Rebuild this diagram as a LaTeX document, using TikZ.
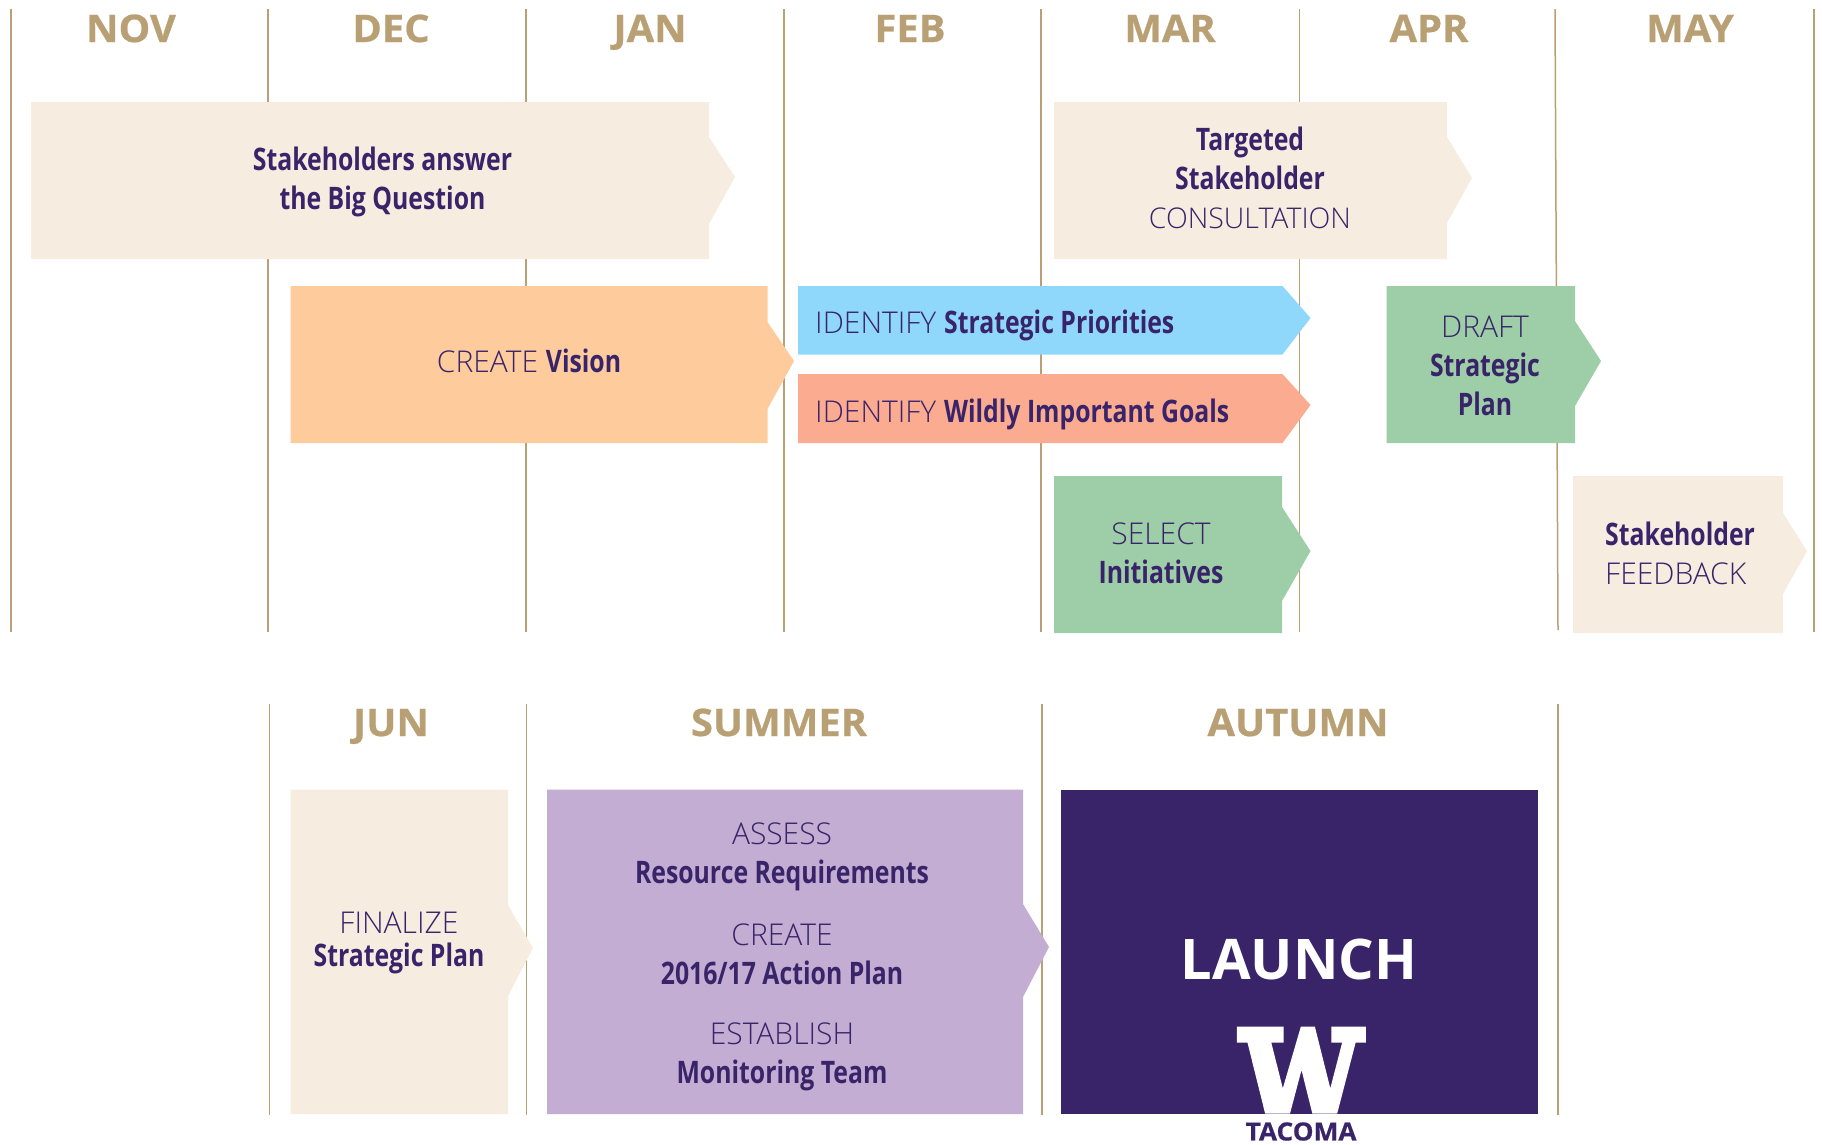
\documentclass[tikz,border=0pt]{standalone}
\usepackage{fontspec}
\setmainfont{Open Sans}
\newfontfamily\condfont[FakeStretch=0.8]{Open Sans}
\newfontfamily\lightfont{Open Sans Light}
\newfontfamily\heavyfont[FakeBold=0.6,FakeStretch=1.05]{Open Sans}
\definecolor{gold}{HTML}{B9A074}
\definecolor{ink}{HTML}{39246A}
\definecolor{cream}{HTML}{F6ECE0}
\definecolor{peach}{HTML}{FDCB9C}
\definecolor{sky}{HTML}{8FD8FB}
\definecolor{salmon}{HTML}{FBAB90}
\definecolor{leaf}{HTML}{9ECEA8}
\definecolor{lavender}{HTML}{C3ADD2}
\newcommand{\B}[1]{{\condfont\bfseries\fontsize{31}{39}\selectfont #1}}
\newcommand{\Lt}[1]{{\lightfont #1}}
% x1 y1 x2 y2 notchtop notchbottom tipx tipy colour
\newcommand{\arrowbox}[9]{\fill[#9] (#1,#2) -- (#3,#2) -- (#3,#5) -- (#7,#8) -- (#3,#6) -- (#3,#4) -- (#1,#4) -- cycle;}
\tikzset{
  grid line/.style={draw=gold,line width=1.5pt},
  month/.style={text=gold,font=\heavyfont\bfseries\fontsize{38}{38}\selectfont,inner sep=0pt,anchor=base},
  body/.style={text=ink,font=\fontsize{30}{39}\selectfont,align=center,inner sep=0pt,anchor=center},
}
\begin{document}
\begin{tikzpicture}[x=1pt,y=-1pt]
\useasboundingbox (0,0) rectangle (1822,1144);
\foreach \x in {11,268,526,784,1041,1299.5,1814}{\draw[grid line] (\x,9) -- (\x,632);}
\draw[grid line] (1555,9) -- (1558,630);
\foreach \x in {269.5,526.5,1042,1558}{\draw[grid line] (\x,704) -- (\x,1115);}
\arrowbox{31}{102}{709}{259}{137}{224}{735}{177}{cream}
\arrowbox{1054}{102}{1447}{259}{137}{223}{1472}{178}{cream}
\arrowbox{290.5}{286}{767.5}{443}{322}{409}{794}{361}{peach}
\arrowbox{798}{286}{1282.5}{354.5}{286}{354.5}{1310.5}{318}{sky}
\arrowbox{798}{374}{1282.5}{443}{374}{443}{1310.5}{405}{salmon}
\arrowbox{1054}{476}{1282}{633}{507}{601}{1310.5}{551}{leaf}
\arrowbox{1386.5}{286}{1575}{443}{321}{406}{1601}{361}{leaf}
\arrowbox{1573}{476}{1783}{633}{513}{594}{1807}{551}{cream}
\arrowbox{290.5}{789.5}{508}{1114}{905}{996}{533}{948}{cream}
\arrowbox{547}{789.5}{1023}{1114}{904}{997}{1049}{947}{lavender}
\fill[ink] (1061,789.5) rectangle (1537.5,1114);
\fill[white] (1236.8,1026.7) -- (1283.5,1026.7) -- (1283.5,1042.7) -- (1271.3,1042.7) -- (1282.8,1088.3) -- (1300.8,1026.7) -- (1314.9,1026.7) -- (1330.3,1088.3) -- (1342.1,1042.7) -- (1331.4,1042.7) -- (1331.4,1026.7) -- (1365.9,1026.7) -- (1365.9,1042.7) -- (1355.6,1042.7) -- (1337.2,1113.5) -- (1312.3,1113.5) -- (1301.5,1070) -- (1290,1113.5) -- (1265.1,1113.5) -- (1247.5,1042.7) -- (1236.8,1042.7) -- cycle;
\node[month] (nov) at (131,42) {NOV};
\node[month] (dec) at (391,42) {DEC};
\node[month] (jan) at (650,42) {JAN};
\node[month] (feb) at (910,42) {FEB};
\node[month] (mar) at (1170,42) {MAR};
\node[month] (apr) at (1429,42) {APR};
\node[month] (may) at (1690,42) {MAY};
\node[month] (jun) at (391,736) {JUN};
\node[month] (summer) at (779,736) {SUMMER};
\node[month] (autumn) at (1298,736) {AUTUMN};
\node[body] (big) at (382.5,182) {\B{Stakeholders answer}\\\B{the Big Question}};
\node[body] (targeted) at (1250,178) {\B{Targeted}\\\B{Stakeholder}\\{\lightfont\fontsize{28.5}{39}\selectfont CONSULTATION}};
\node[body] (vision) at (529,361) {\Lt{CREATE} \B{Vision}};
\node[body,anchor=west] (priorities) at (815,325) {\Lt{IDENTIFY} \B{Strategic Priorities}};
\node[body,anchor=west] (goals) at (815,414) {\Lt{IDENTIFY} \B{Wildly Important Goals}};
\node[body] (select) at (1161,553.5) {\Lt{SELECT}\\\B{Initiatives}};
\node[body] (draft) at (1485,365.5) {\Lt{DRAFT}\\\B{Strategic}\\\B{Plan}};
\node[body,align=left,anchor=west] (feedback) at (1605,553) {\B{Stakeholder}\\\Lt{FEEDBACK}};
\node[body,font=\fontsize{30}{33}\selectfont] (finalize) at (399,943) {\Lt{FINALIZE}\\\B{Strategic Plan}};
\node[body] (assess) at (782,857) {\Lt{ASSESS}\\\B{Resource Requirements}};
\node[body] (create) at (782,954) {\Lt{CREATE}\\\B{2016/17 Action Plan}};
\node[body] (establish) at (782,1057) {\Lt{ESTABLISH}\\\B{Monitoring Team}};
\node[text=white,font=\bfseries\fontsize{56}{56}\selectfont,inner sep=0pt] (launch) at (1299,959) {LAUNCH};
\node[text=ink,font=\heavyfont\bfseries\fontsize{25}{25}\selectfont,inner sep=0pt] (tacoma) at (1301,1131.5) {TACOMA};
\end{tikzpicture}
\end{document}
